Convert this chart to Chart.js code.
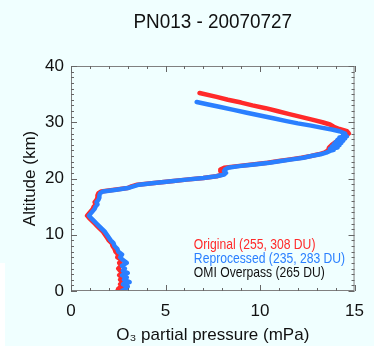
<!DOCTYPE html>
<html>
<head>
<meta charset="utf-8">
<script src="https://cdn.jsdelivr.net/npm/chart.js@4.4.1/dist/chart.umd.min.js"></script>
<style>
  html, body { margin: 0; padding: 0; background: #f0ffff; }
  #wrap { position: relative; width: 374px; height: 346px; }
  #strip { position: absolute; left: 0; top: 263px; width: 5px; height: 83px; background: #fff; }
  canvas { position: absolute; left: 0; top: 0; }
</style>
</head>
<body>
<div id="wrap">
  <div id="strip"></div>
  <canvas id="profile" width="374" height="346"></canvas>
</div>
<script>
// ozonesonde profile PN013, 2007-07-27
const origAlt = [0.0, 0.4, 0.8, 1.2, 1.6, 2.0, 2.4, 2.8, 3.2, 3.6, 4.0, 4.5, 5.0, 5.5, 6.0, 6.5, 7.0, 7.5, 8.0, 8.5,
  9.0, 9.5, 10.0, 10.5, 11.0, 11.5, 12.0, 12.5, 13.0, 13.4, 13.8, 14.2, 14.6, 15.0, 15.4, 15.8, 16.2, 16.6, 17.0, 17.4,
  17.7, 18.0, 18.3, 18.6, 18.9, 19.2, 19.5, 19.8, 20.1, 20.4, 20.7, 21.0, 21.3, 21.6, 21.9, 22.2, 22.5, 22.8, 23.1, 23.4,
  23.7, 24.0, 24.3, 24.6, 25.0, 25.5, 26.0, 26.5, 27.0, 27.5, 28.0, 28.4, 28.8, 29.2, 29.6, 30.0, 30.5, 31.0, 31.5, 32.0,
  32.5, 33.0, 33.5, 34.0, 34.5, 35.2];
const origO3 = [2.45, 2.5, 2.7, 2.6, 2.75, 2.6, 2.7, 2.55, 2.75, 2.6, 2.5, 2.65, 2.55, 2.7, 2.45, 2.5, 2.35, 2.3, 2.2, 2.15,
  2.0, 1.9, 1.8, 1.7, 1.55, 1.4, 1.25, 1.1, 0.95, 0.85, 0.95, 1.05, 1.15, 1.2, 1.3, 1.25, 1.35, 1.4, 1.4, 1.45,
  1.6, 2.3, 3.0, 3.2, 3.5, 4.4, 5.3, 6.1, 7.0, 7.7, 8.0, 8.0, 7.9, 7.9, 8.1, 8.8, 9.6, 10.4, 11.0, 11.6,
  12.2, 12.7, 13.1, 13.4, 13.6, 13.65, 13.8, 14.0, 14.2, 14.5, 14.7, 14.6, 14.2, 13.9, 13.7, 13.3, 12.7, 12.1, 11.5, 10.9,
  10.3, 9.6, 9.0, 8.3, 7.7, 6.8];

const reprAlt = [0.0, 0.4, 0.8, 1.2, 1.6, 2.0, 2.4, 2.8, 3.2, 3.6, 4.0, 4.5, 5.0, 5.5, 6.0, 6.5, 7.0, 7.5, 8.0, 8.5,
  9.0, 9.5, 10.0, 10.5, 11.0, 11.5, 12.0, 12.5, 13.0, 13.4, 13.8, 14.2, 14.6, 15.0, 15.4, 15.8, 16.2, 16.6, 17.0, 17.4,
  17.7, 18.0, 18.3, 18.6, 18.9, 19.2, 19.5, 19.8, 20.1, 20.4, 20.7, 21.0, 21.3, 21.6, 21.9, 22.2, 22.5, 22.8, 23.1, 23.4,
  23.7, 24.0, 24.3, 24.6, 24.9, 25.1, 25.3, 25.5, 25.7, 25.9, 26.1, 26.3, 26.5, 26.7, 26.9, 27.1, 27.3, 27.5, 27.8, 28.0,
  28.4, 28.7, 29.0, 29.4, 29.8, 30.2, 30.7, 31.2, 31.7, 32.2, 32.7, 33.2, 33.6];
const reprO3 = [2.7, 2.9, 3.0, 2.75, 3.1, 2.8, 2.95, 2.7, 3.0, 2.75, 2.85, 2.7, 2.95, 2.75, 2.6, 2.7, 2.5, 2.45, 2.3, 2.25,
  2.1, 2.0, 1.9, 1.8, 1.65, 1.5, 1.35, 1.2, 1.05, 0.95, 1.05, 1.15, 1.25, 1.3, 1.4, 1.35, 1.45, 1.5, 1.5, 1.55,
  1.7, 2.4, 3.0, 3.3, 3.6, 4.4, 5.3, 6.1, 7.0, 7.7, 8.1, 8.2, 8.1, 8.15, 8.3, 8.9, 9.7, 10.5, 11.1, 11.7,
  12.3, 12.7, 13.2, 13.5, 13.7, 13.9, 13.7, 14.1, 13.8, 14.2, 13.9, 14.3, 14.0, 14.4, 14.1, 14.5, 14.2, 14.6, 14.4, 14.5,
  14.2, 13.8, 13.3, 12.7, 12.0, 11.4, 10.7, 10.0, 9.3, 8.6, 7.9, 7.2, 6.65];

const xTicks = [0, 5, 10, 15];
const yTicks = [0, 10, 20, 30, 40];
const legendLines = ["Original (255, 308 DU)", "Reprocessed (235, 283 DU)", "OMI Overpass (265 DU)"];
const legendColors = ["#ff2a2a", "#2a7fff", "#111111"];

const FONT = "'Liberation Sans', Arial, sans-serif";

function pts(alt, o3) {
  return alt.map((a, i) => ({ x: o3[i], y: a }));
}

// inward ticks, frame, title and text legend
const decor = {
  id: "decor",
  afterDraw(chart) {
    const ctx = chart.ctx;
    const a = chart.chartArea;
    const sx = chart.scales.x, sy = chart.scales.y;
    ctx.save();
    ctx.strokeStyle = "#808080";
    ctx.lineWidth = 1;
    ctx.strokeRect(a.left + 0.5, a.top + 0.5, a.right - a.left - 1, a.bottom - a.top - 1);
    ctx.strokeStyle = "#666";
    ctx.beginPath();
    for (let v = 0; v <= 15; v++) {
      const px = Math.round(sx.getPixelForValue(v)) + 0.5;
      const len = v % 5 === 0 ? 6 : 3;
      ctx.moveTo(px, a.bottom); ctx.lineTo(px, a.bottom - len);
      ctx.moveTo(px, a.top); ctx.lineTo(px, a.top + len);
    }
    for (let v = 0; v <= 40; v++) {
      const py = Math.round(sy.getPixelForValue(v)) + 0.5;
      const len = v % 10 === 0 ? 6 : 3;
      ctx.moveTo(a.left, py); ctx.lineTo(a.left + len, py);
      ctx.moveTo(a.right, py); ctx.lineTo(a.right - len, py);
    }
    ctx.stroke();

    ctx.fillStyle = "#111";
    ctx.textBaseline = "middle";
    ctx.textAlign = "center";
    ctx.save();
    ctx.translate((a.left + a.right) / 2, 22);
    ctx.scale(0.9, 1);
    ctx.font = "21px " + FONT;
    ctx.fillText("PN013 - 20070727", 0, 0);
    ctx.restore();

    ctx.textAlign = "left";
    const lx = sx.getPixelForValue(6.5);
    const ly = sy.getPixelForValue(8.2);
    legendLines.forEach((t, i) => {
      ctx.save();
      ctx.translate(lx, ly + i * 13.8);
      ctx.scale(0.81, 1);
      ctx.font = "15px " + FONT;
      ctx.fillStyle = legendColors[i];
      ctx.fillText(t, 0, 0);
      ctx.restore();
    });
    ctx.restore();
  }
};

new Chart(document.getElementById("profile"), {
  type: "scatter",
  data: {
    datasets: [
      {
        label: "Reprocessed",
        data: pts(reprAlt, reprO3),
        showLine: true,
        borderColor: "#2a7fff",
        borderWidth: 4.5,
        borderJoinStyle: "round",
        borderCapStyle: "round",
        pointRadius: 0,
        order: 0
      },
      {
        label: "Original",
        data: pts(origAlt, origO3),
        showLine: true,
        borderColor: "#ff2a2a",
        borderWidth: 4.5,
        borderJoinStyle: "round",
        borderCapStyle: "round",
        pointRadius: 0,
        order: 1
      }
    ]
  },
  options: {
    responsive: false,
    animation: false,
    layout: { padding: { top: 66, right: 12, left: 0, bottom: 0 } },
    plugins: { legend: { display: false }, tooltip: { enabled: false } },
    scales: {
      x: {
        type: "linear",
        min: 0,
        max: 15,
        afterBuildTicks: (s) => { s.ticks = xTicks.map((v) => ({ value: v })); },
        afterFit: (s) => { s.height = 55; },
        grid: { display: false, drawTicks: false },
        border: { display: false },
        ticks: { color: "#111", font: { family: FONT, size: 17 }, padding: 10, maxRotation: 0 },
        title: { display: true, text: "O₃ partial pressure (mPa)", color: "#111",
          font: { family: FONT, size: 17 }, padding: { top: 0, bottom: 0 } }
      },
      y: {
        type: "linear",
        min: 0,
        max: 40,
        afterBuildTicks: (s) => { s.ticks = yTicks.map((v) => ({ value: v })); },
        afterFit: (s) => { s.width = 71; },
        grid: { display: false, drawTicks: false },
        border: { display: false },
        ticks: { color: "#111", font: { family: FONT, size: 17 }, padding: 7 },
        title: { display: true, text: "Altitude (km)", color: "#111",
          font: { family: FONT, size: 17 }, padding: { top: 20, bottom: 0 } }
      }
    }
  },
  plugins: [decor]
});
</script>
</body>
</html>
